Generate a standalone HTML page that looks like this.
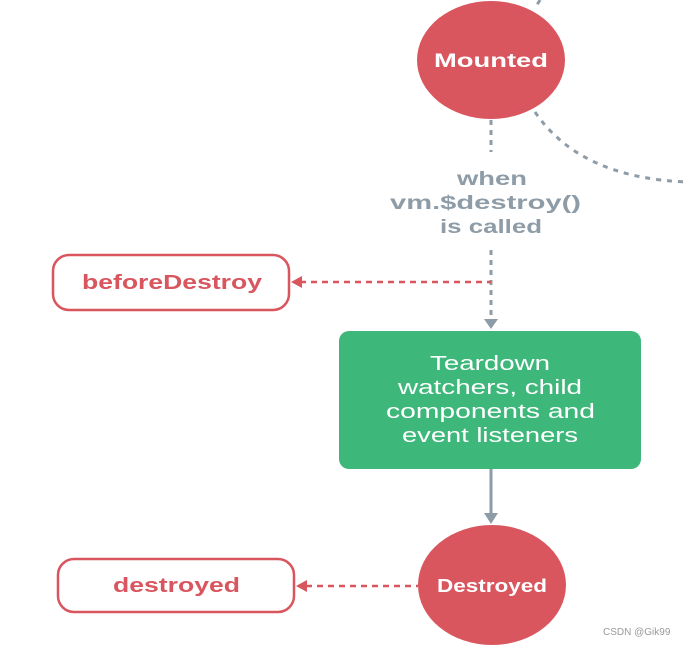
<!DOCTYPE html>
<html><head><style>
html,body{margin:0;padding:0;background:#fff;}
svg{display:block;}
text{font-family:"Liberation Sans",sans-serif;font-weight:bold;}
</style></head><body>
<svg width="687" height="645" viewBox="0 0 687 645" xmlns="http://www.w3.org/2000/svg">
<path d="M540 0 L535 8" stroke="#8e9ca7" stroke-width="3" stroke-dasharray="5 5" fill="none"/>
<path d="M535 112 Q580 178 687 182" stroke="#8e9ca7" stroke-width="3" stroke-dasharray="5 6" fill="none"/>
<line x1="491" y1="120" x2="491" y2="152" stroke="#8e9ca7" stroke-width="3" stroke-dasharray="5 5"/>
<line x1="491" y1="250" x2="491" y2="320" stroke="#8e9ca7" stroke-width="3" stroke-dasharray="5 5"/>
<polygon points="484,319 498,319 491,329" fill="#8e9ca7"/>
<ellipse cx="491" cy="60" rx="74" ry="59" fill="#d9565f"/>
<text x="434" y="67" font-size="19" fill="#fff" textLength="114" lengthAdjust="spacingAndGlyphs">Mounted</text>
<text x="457" y="185" font-size="19" fill="#8e9ca7" textLength="70" lengthAdjust="spacingAndGlyphs">when</text>
<text x="390" y="209" font-size="19" fill="#8e9ca7" textLength="191" lengthAdjust="spacingAndGlyphs">vm.$destroy()</text>
<text x="440" y="233" font-size="19" fill="#8e9ca7" textLength="102" lengthAdjust="spacingAndGlyphs">is called</text>
<line x1="300" y1="282" x2="491" y2="282" stroke="#d9565f" stroke-width="2.5" stroke-dasharray="6 5"/>
<polygon points="291,282 302,276 302,288" fill="#d9565f"/>
<rect x="53" y="255" width="236" height="55" rx="16" fill="#fff" stroke="#d9565f" stroke-width="2.5"/>
<text x="82" y="289" font-size="20" fill="#d9565f" textLength="180" lengthAdjust="spacingAndGlyphs">beforeDestroy</text>
<rect x="339" y="331" width="302" height="138" rx="10" fill="#3db87a"/>
<g font-size="20" fill="#fff">
<text x="430" y="370" style="font-weight:normal" textLength="120" lengthAdjust="spacingAndGlyphs">Teardown</text>
<text x="398" y="394" style="font-weight:normal" textLength="184" lengthAdjust="spacingAndGlyphs">watchers, child</text>
<text x="386" y="418" style="font-weight:normal" textLength="209" lengthAdjust="spacingAndGlyphs">components and</text>
<text x="402" y="442" style="font-weight:normal" textLength="176" lengthAdjust="spacingAndGlyphs">event listeners</text>
</g>
<line x1="491" y1="469" x2="491" y2="514" stroke="#8e9ca7" stroke-width="3"/>
<polygon points="484,513 498,513 491,524" fill="#8e9ca7"/>
<ellipse cx="492" cy="585" rx="74" ry="60" fill="#d9565f"/>
<text x="437" y="592" font-size="18" fill="#fff" textLength="110" lengthAdjust="spacingAndGlyphs">Destroyed</text>
<line x1="306" y1="586" x2="418" y2="586" stroke="#d9565f" stroke-width="2.5" stroke-dasharray="6 5"/>
<polygon points="296,586 307,580 307,592" fill="#d9565f"/>
<rect x="58" y="559" width="236" height="53" rx="16" fill="#fff" stroke="#d9565f" stroke-width="2.5"/>
<text x="113" y="592" font-size="20" fill="#d9565f" textLength="127" lengthAdjust="spacingAndGlyphs">destroyed</text>
<text x="603" y="635" font-size="10" fill="#999" style="font-weight:normal">CSDN @Gik99</text>
</svg>
</body></html>
